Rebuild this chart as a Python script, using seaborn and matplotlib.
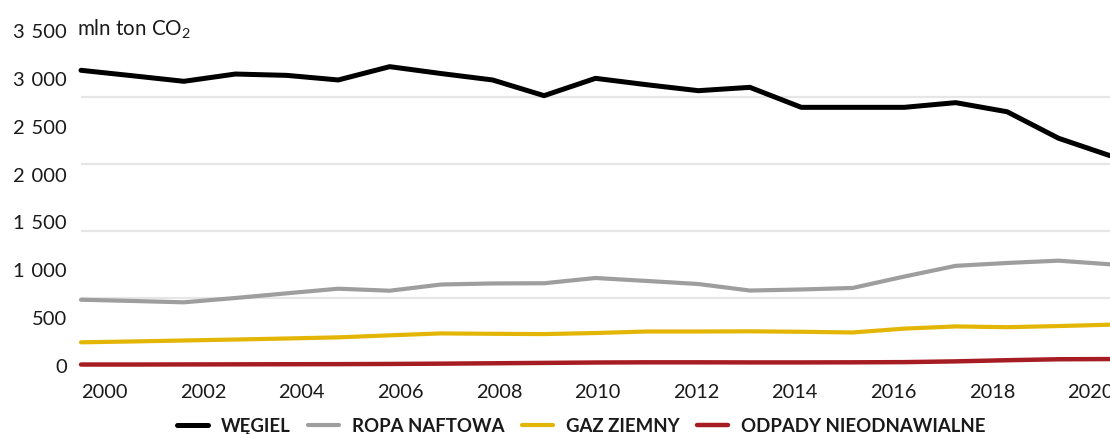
import matplotlib
matplotlib.use("Agg")
import matplotlib.pyplot as plt
from matplotlib.ticker import FixedLocator
import numpy as np
import pandas as pd
import seaborn as sns

# Emissions by fuel, mln t CO2
years = list(range(2000, 2021))
coal = [3079, 3022, 2964, 3040, 3026, 2978, 3117, 3045, 2978, 2814, 2995,
        2928, 2866, 2901, 2692, 2692, 2692, 2741, 2646, 2369, 2187]
oil = [682, 669, 655, 700, 749, 797, 776, 841, 852, 854, 909,
       878, 846, 778, 789, 805, 924, 1036, 1066, 1090, 1052]
gas = [237, 246, 256, 266, 277, 289, 310, 330, 326, 323, 334,
       350, 350, 352, 347, 340, 380, 403, 395, 407, 421]
waste = [5, 5, 6, 7, 8, 9, 11, 14, 18, 22, 26,
         28, 28, 27, 27, 28, 30, 38, 50, 60, 62]

series_names = ["WĘGIEL", "ROPA NAFTOWA", "GAZ ZIEMNY", "ODPADY NIEODNAWIALNE"]
series_values = [coal, oil, gas, waste]
colors = ["#000000", "#9e9e9e", "#e3b505", "#a61c23"]
widths = [3.6, 3.0, 3.0, 3.2]

y_ticks = list(range(0, 3501, 500))
grid_levels = list(range(0, 3501, 700))
year_ticks = list(range(2000, 2021, 2))

sns.set_theme(style="white")
plt.rcParams["font.family"] = ["Lato", "DejaVu Sans"]
plt.rcParams["mathtext.fontset"] = "custom"
plt.rcParams["mathtext.rm"] = "Lato"

df = pd.DataFrame({"rok": years})
for name, vals in zip(series_names, series_values):
    df[name] = vals
long = df.melt(id_vars="rok", var_name="paliwo", value_name="emisja")

fig = plt.figure(figsize=(11.10, 4.35), dpi=100)
ax = fig.add_axes([81 / 1110, 1 - 366 / 435, 1 - 81 / 1110, 335 / 435])

for name, col, lw in zip(series_names, colors, widths):
    sub = long[long["paliwo"] == name]
    sns.lineplot(data=sub, x="rok", y="emisja", color=col, linewidth=lw,
                 ax=ax, label=name, clip_on=False, zorder=3)

ax.set_xlim(2000, 2020)
ax.set_ylim(0, 3500)
ax.set_xlabel("")
ax.set_ylabel("")
for s in ax.spines.values():
    s.set_visible(False)

# value labels every 500, light guide lines every 700
ax.yaxis.set_major_locator(FixedLocator(y_ticks))
ax.yaxis.set_minor_locator(FixedLocator(grid_levels))
ax.set_yticklabels([f"{v:,}".replace(",", "\u2004") for v in y_ticks])
ax.tick_params(axis="y", which="major", length=0, pad=10, labelsize=14.5,
               labelcolor="#1a1a1a")
ax.tick_params(axis="y", which="minor", length=0)
ax.grid(False)
ax.grid(True, axis="y", which="minor", color="#e6e6e6", linewidth=1.6, zorder=0)
ax.set_xticks([])

# year axis
ax_years = ax.twiny()
ax_years.set_xlim(1999.523, 2020.395)
ax_years.xaxis.set_ticks_position("bottom")
ax_years.set_xticks(year_ticks)
ax_years.set_xticklabels([str(y) for y in year_ticks])
ax_years.tick_params(axis="x", length=0, pad=13, labelsize=14.4,
                     labelcolor="#1a1a1a")
for s in ax_years.spines.values():
    s.set_visible(False)
ax_years.grid(False)

fig.text(77 / 1110, 1 - 29 / 435, r"mln ton CO$_\mathregular{2}$", fontsize=14.8,
         color="#1a1a1a", ha="left", va="center",
         bbox=dict(facecolor="white", edgecolor="none", pad=4))

handles, labels = ax.get_legend_handles_labels()
ax.get_legend().remove()
leg = fig.legend(handles, labels, loc="center", bbox_to_anchor=(581 / 1110, 1 - 427 / 435),
                 ncol=4, frameon=False, handlelength=1.65, handletextpad=0.7,
                 columnspacing=0.95, prop={"weight": "bold", "size": 13.4})
for t in leg.get_texts():
    t.set_color("#1a1a1a")

fig.savefig("out.png", dpi=100)
